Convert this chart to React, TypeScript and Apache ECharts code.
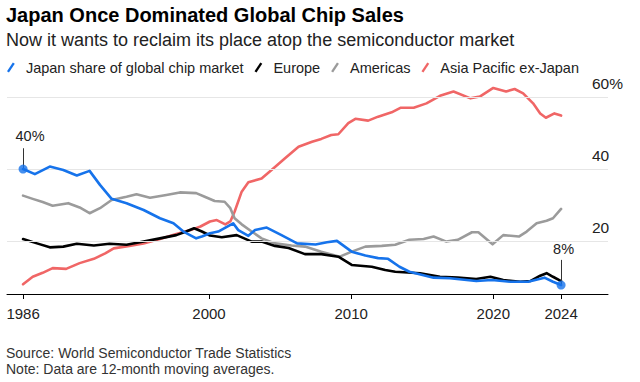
import React, { useEffect, useRef } from "react";
import * as echarts from "echarts";

// ---- Data (12-month moving averages, % share) ----
const japanYears = [1986.92, 1987.75, 1988.8, 1989.75, 1990.7, 1991.6, 1992.33, 1993.15, 1994.2, 1995.4, 1996.55, 1997.5, 1998.2, 1999.1, 1999.5, 2000.07, 2000.65, 2001.7, 2002.06, 2002.77, 2003.24, 2004.06, 2005.1, 2006.2, 2007.5, 2008.3, 2009.0, 2010.04, 2011.0, 2011.9, 2012.6, 2013.4, 2014.1, 2015.8, 2016.95, 2018.8, 2019.9, 2021.2, 2022.45, 2023.6, 2024.2, 2024.77];
const japanShare = [40.0, 38.6, 40.7, 39.75, 38.2, 39.5, 35.6, 31.7, 30.5, 28.6, 26.3, 24.9, 22.6, 20.7, 21.2, 22.1, 22.6, 24.9, 23.0, 21.4, 23.0, 23.7, 21.6, 19.3, 19.0, 19.6, 20.0, 17.0, 15.9, 15.2, 15.0, 12.8, 11.4, 9.75, 9.6, 8.8, 9.1, 8.6, 8.6, 9.75, 8.6, 7.7];

const europeYears = [1986.92, 1987.9, 1988.8, 1989.75, 1990.7, 1991.9, 1993.0, 1994.2, 1995.4, 1996.55, 1997.7, 1998.4, 1998.95, 1999.5, 2000.07, 2000.9, 2001.95, 2003.0, 2003.7, 2004.64, 2005.6, 2006.75, 2007.9, 2009.1, 2010.04, 2011.45, 2012.4, 2013.1, 2014.85, 2016.25, 2017.5, 2018.8, 2019.8, 2020.7, 2021.9, 2022.6, 2023.3, 2023.75, 2024.2, 2024.77];
const europeShare = [20.5, 19.3, 18.2, 18.4, 19.2, 18.7, 19.2, 18.9, 19.8, 20.7, 21.6, 22.6, 23.5, 22.6, 21.5, 21.0, 21.6, 19.8, 19.8, 18.6, 18.0, 16.3, 16.3, 15.6, 13.3, 12.8, 11.9, 11.4, 11.0, 10.0, 9.75, 9.4, 10.0, 9.1, 8.6, 8.8, 10.3, 11.0, 10.0, 8.8];

const americasYears = [1986.92, 1987.6, 1988.3, 1989.0, 1990.1, 1990.9, 1991.6, 1992.33, 1993.15, 1994.2, 1994.9, 1995.85, 1997.0, 1997.95, 1999.1, 1999.7, 2000.4, 2001.1, 2001.5, 2001.8, 2002.3, 2003.0, 2003.7, 2004.64, 2005.8, 2006.75, 2007.9, 2009.2, 2010.04, 2011.0, 2012.15, 2013.1, 2014.1, 2015.1, 2015.8, 2016.7, 2017.5, 2018.5, 2018.95, 2019.95, 2020.7, 2021.8, 2022.35, 2023.05, 2023.75, 2024.2, 2024.77];
const americasShare = [32.6, 31.7, 30.8, 29.8, 30.5, 29.3, 27.7, 29.1, 31.4, 32.3, 33.0, 32.0, 32.8, 33.5, 33.3, 32.3, 31.1, 30.9, 29.1, 26.3, 24.6, 22.6, 20.7, 19.3, 18.7, 18.4, 17.0, 15.6, 17.0, 18.4, 18.6, 18.9, 20.3, 20.5, 21.2, 19.8, 20.3, 22.4, 22.4, 19.05, 21.6, 21.2, 22.6, 24.9, 25.6, 26.3, 28.9];

const asiaYears = [1986.92, 1987.6, 1988.3, 1989.0, 1989.95, 1990.9, 1991.9, 1992.7, 1993.3, 1994.4, 1995.4, 1996.55, 1997.7, 1998.7, 1999.4, 2000.07, 2000.55, 2001.15, 2001.5, 2001.8, 2002.3, 2002.77, 2003.7, 2004.4, 2005.35, 2006.3, 2007.25, 2007.9, 2008.6, 2009.1, 2009.8, 2010.3, 2011.2, 2011.9, 2012.85, 2013.5, 2014.4, 2015.3, 2016.25, 2017.2, 2018.4, 2019.05, 2020.0, 2020.9, 2021.5, 2022.1, 2022.8, 2023.3, 2023.7, 2024.3, 2024.77];
const asiaShare = [7.9, 10.0, 11.1, 12.4, 12.2, 13.8, 15.0, 16.5, 17.9, 18.6, 19.3, 20.5, 21.9, 23.0, 24.0, 25.4, 25.8, 24.6, 25.4, 28.1, 33.7, 36.3, 37.4, 39.75, 43.0, 46.2, 47.6, 48.4, 49.5, 49.7, 52.8, 54.0, 53.5, 54.6, 55.8, 57.1, 57.1, 58.3, 60.4, 61.6, 59.7, 60.2, 62.6, 61.6, 62.3, 61.1, 58.3, 55.5, 54.3, 55.5, 54.9];

const seriesNames = ["Japan share of global chip market", "Europe", "Americas", "Asia Pacific ex-Japan"];
const xTickValues = [1986.92, 2000, 2010, 2020, 2024.77];
const yTickValues = [20, 40, 60];

const COLORS = {
  japan: "#1673eb",
  europe: "#000000",
  americas: "#9b9b9b",
  asia: "#f06666",
};
const FONT = "Liberation Sans, Arial, Helvetica, sans-serif";

function pairs(xs: number[], ys: number[]) {
  return xs.map((x, i) => [x, ys[i]]);
}

export default function App() {
  const ref = useRef<HTMLDivElement>(null);

  useEffect(() => {
    document.body.style.margin = "0";
    const chart = echarts.init(ref.current!, null, { renderer: "svg" });

    const jFirstX = japanYears[0];
    const jFirstY = japanShare[0];
    const jLastX = japanYears[japanYears.length - 1];
    const jLastY = japanShare[japanShare.length - 1];

    const lineBase = (name: string, color: string, data: number[][], z: number) => ({
      name,
      type: "line",
      data,
      showSymbol: false,
      symbol: "none",
      z,
      lineStyle: { color, width: 2.6, join: "round", cap: "round" },
      itemStyle: { color },
      emphasis: { disabled: true },
      silent: true,
    });

    const option: any = {
      animation: false,
      backgroundColor: "#ffffff",
      textStyle: { fontFamily: FONT },
      title: [
        {
          text: "Japan Once Dominated Global Chip Sales",
          left: 6,
          top: 4.5,
          padding: 0,
          textStyle: { fontFamily: FONT, fontSize: 20, fontWeight: "bold", color: "#000", lineHeight: 20 },
        },
        {
          text: "Now it wants to reclaim its place atop the semiconductor market",
          left: 6,
          top: 31,
          padding: 0,
          textStyle: { fontFamily: FONT, fontSize: 18, fontWeight: "normal", color: "#222", lineHeight: 18 },
        },
        {
          text: "Source: World Semiconductor Trade Statistics",
          left: 6,
          top: 345.7,
          padding: 0,
          textStyle: { fontFamily: FONT, fontSize: 14, fontWeight: "normal", color: "#333", lineHeight: 14 },
        },
        {
          text: "Note: Data are 12-month moving averages.",
          left: 6,
          top: 362,
          padding: 0,
          textStyle: { fontFamily: FONT, fontSize: 14, fontWeight: "normal", color: "#333", lineHeight: 14 },
        },
      ],
      legend: {
        data: seriesNames,
        left: 7,
        top: 60,
        padding: 0,
        itemGap: 11,
        itemWidth: 8,
        itemHeight: 10,
        icon: "path://M0,9 L6,0 L8,1.3 L2,10.3 Z",
        selectedMode: false,
        textStyle: { fontFamily: FONT, fontSize: 14.5, color: "#222", padding: [0, 0, 0, 6] },
      },
      grid: { left: 7, right: 32, top: 86.5, bottom: 88, containLabel: false, outerBoundsMode: "none" },
      xAxis: {
        type: "value",
        min: 1985.79,
        max: 2028.07,
        axisLine: { show: true, onZero: false, lineStyle: { color: "#000", width: 1 } },
        axisTick: { show: true, length: 5, customValues: xTickValues, lineStyle: { color: "#000", width: 1 } },
        axisLabel: {
          customValues: xTickValues,
          formatter: (v: number) => String(Math.floor(v + 1e-6)),
          fontFamily: FONT,
          fontSize: 15,
          color: "#222",
          margin: 12,
        },
        splitLine: { show: false },
      },
      yAxis: {
        type: "value",
        position: "right",
        min: 5.2,
        max: 63,
        axisLine: { show: false },
        axisTick: { show: false, customValues: yTickValues },
        axisLabel: {
          customValues: yTickValues,
          formatter: (v: number) => (v === 60 ? "60%" : String(v)),
          margin: -16,
          align: "left",
          verticalAlign: "bottom",
          lineHeight: 15,
          padding: [0, 0, 6, 0],
          fontFamily: FONT,
          fontSize: 15.5,
          color: "#222",
        },
        splitLine: { show: false },
      },
      series: [
        {
          name: "grid",
          type: "line",
          data: [],
          z: 1,
          silent: true,
          markLine: {
            silent: true,
            symbol: ["none", "none"],
            label: { show: false },
            lineStyle: { color: "#e6e6e6", width: 1, type: "solid" },
            data: yTickValues.map((v) => ({ yAxis: v })),
          },
        },
        lineBase(seriesNames[3], COLORS.asia, pairs(asiaYears, asiaShare), 2),
        lineBase(seriesNames[2], COLORS.americas, pairs(americasYears, americasShare), 3),
        lineBase(seriesNames[1], COLORS.europe, pairs(europeYears, europeShare), 4),
        {
          ...lineBase(seriesNames[0], COLORS.japan, pairs(japanYears, japanShare), 5),
          markLine: {
            silent: true,
            symbol: ["none", "none"],
            lineStyle: { color: "#333", width: 1, type: "solid" },
            label: { show: true, position: "end", fontFamily: FONT, fontSize: 14.5, color: "#222" },
            data: [
              [
                {
                  coord: [jFirstX, jFirstY],
                  label: { formatter: `${Math.round(jFirstY)}%`, padding: [0, 0, 0, 14], distance: 5 },
                },
                { coord: [jFirstX, 45.8] },
              ],
              [
                {
                  coord: [jLastX, jLastY],
                  label: { formatter: `${Math.round(jLastY)}%`, padding: [0, 0, 0, 5], distance: 3 },
                },
                { coord: [jLastX, 14.7] },
              ],
            ],
          },
        },
        {
          name: "japanEnds",
          type: "scatter",
          z: 6,
          silent: true,
          symbol: "circle",
          symbolSize: 9,
          itemStyle: { color: COLORS.japan },
          data: [
            [jFirstX, jFirstY],
            [jLastX, jLastY],
          ],
        },
      ],
    };

    chart.setOption(option);
    return () => chart.dispose();
  }, []);

  return <div ref={ref} style={{ width: 640, height: 382 }} />;
}
